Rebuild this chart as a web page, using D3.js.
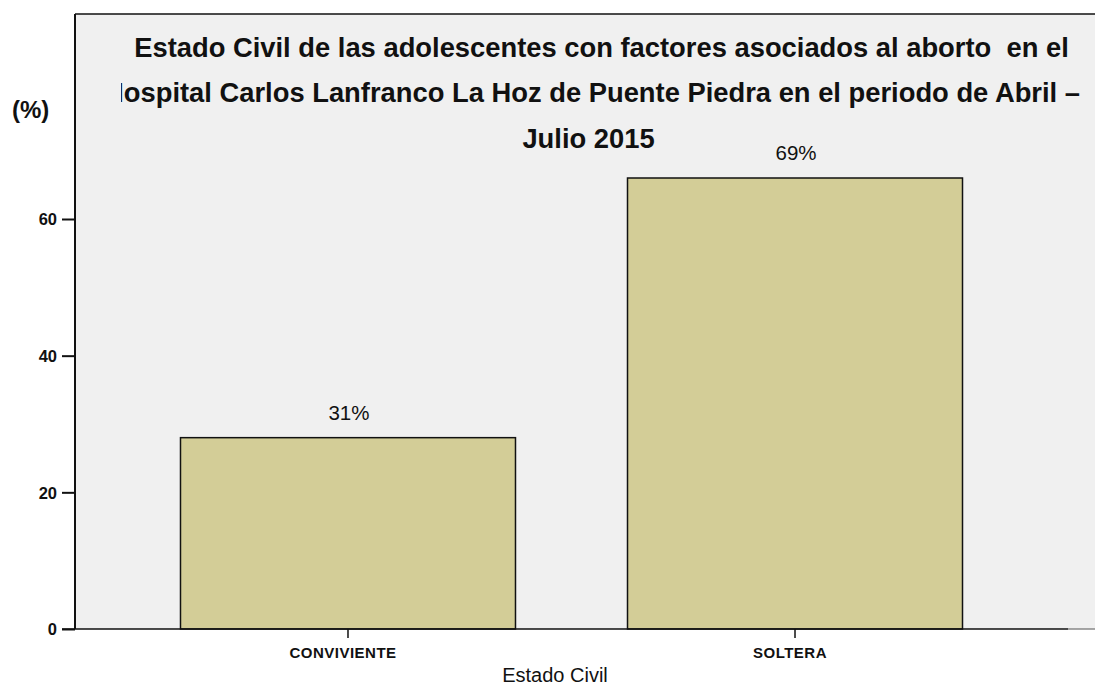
<!DOCTYPE html>
<html>
<head>
<meta charset="utf-8">
<script src="https://cdn.jsdelivr.net/npm/d3@7"></script>
<style>
  html, body { margin: 0; padding: 0; background: #fff; }
  svg { display: block; font-family: Arial, "Liberation Sans", sans-serif; }
  text { white-space: pre; }
</style>
</head>
<body>
<svg id="chart" width="1095" height="685"></svg>
<script>
const categories = ["CONVIVIENTE", "SOLTERA"];
const values = [28, 66];
const valueLabels = ["31%", "69%"];
const yTicks = [0, 20, 40, 60];
const titleLines = [
  "Estado Civil de las adolescentes con factores asociados al aborto  en el",
  "Hospital Carlos Lanfranco La Hoz de Puente Piedra en el periodo de Abril \u2013",
  "Julio 2015"
];
const yAxisTitle = "(%)";
const xAxisTitle = "Estado Civil";

(function () {
const W = 1095, H = 685;
const pL = 75, pR = 1068, pT = 14, pB = 629;

const svg = d3.select("#chart");

const x = d3.scaleBand().domain(categories).range([pL, pR])
  .paddingInner(0.2506).paddingOuter(0.236);
const y = d3.scaleLinear().domain([0, 90]).range([pB, pT]);

// plot background
svg.append("rect").attr("x", pL).attr("y", pT)
  .attr("width", W - pL).attr("height", pB - pT)
  .attr("fill", "#f0f0f0");

// top border
svg.append("line").attr("x1", pL).attr("x2", W).attr("y1", pT).attr("y2", pT)
  .attr("stroke", "#111").attr("stroke-width", 1.5);

// bottom baseline extension (lighter)
svg.append("line").attr("x1", pR).attr("x2", W).attr("y1", pB).attr("y2", pB)
  .attr("stroke", "#888").attr("stroke-width", 1.5);

// clip for title
const defs = svg.append("defs");
defs.append("clipPath").attr("id", "titleClip")
  .append("rect").attr("x", 121).attr("y", pT).attr("width", W - 121).attr("height", 200);

// bars
svg.selectAll("rect.bar").data(values).join("rect")
  .attr("class", "bar")
  .attr("x", (d, i) => x(categories[i]))
  .attr("width", x.bandwidth())
  .attr("y", d => y(d))
  .attr("height", d => y(0) - y(d))
  .attr("fill", "#d3cd97")
  .attr("stroke", "#111")
  .attr("stroke-width", 1.5);

// value labels
svg.selectAll("text.vlabel").data(values).join("text")
  .attr("class", "vlabel")
  .attr("x", (d, i) => x(categories[i]) + x.bandwidth() / 2 + 1)
  .attr("y", d => y(d) - 18)
  .attr("text-anchor", "middle")
  .attr("font-size", 20.5)
  .attr("fill", "#111")
  .text((d, i) => valueLabels[i]);

// y axis
const yAxis = d3.axisLeft(y).tickValues(yTicks).tickSize(13).tickPadding(5);
const gy = svg.append("g").attr("transform", `translate(${pL},0)`).call(yAxis);
gy.select(".domain").attr("stroke", "#111").attr("stroke-width", 2)
  .attr("d", `M0,${pT}V${pB}`);
gy.selectAll(".tick line").attr("stroke", "#111").attr("stroke-width", 2);
gy.selectAll(".tick text").attr("font-size", 16.5).attr("font-weight", "bold")
  .attr("font-family", "Arial, 'Liberation Sans', sans-serif").attr("fill", "#111")
  .attr("dy", "0.36em");

// x axis
const xAxis = d3.axisBottom(x).tickSize(9).tickPadding(6);
const gx = svg.append("g").attr("transform", `translate(0,${pB})`).call(xAxis);
gx.select(".domain").attr("stroke", "#111").attr("stroke-width", 1.5)
  .attr("d", `M${pL - 13},0H${pR}`);
gx.selectAll(".tick line").attr("stroke", "#111").attr("stroke-width", 1.5);
gx.selectAll(".tick text").attr("font-size", 15).attr("font-weight", "bold")
  .attr("font-family", "Arial, 'Liberation Sans', sans-serif").attr("fill", "#111")
  .attr("letter-spacing", "0.5px").attr("dx", -5).attr("dy", "0.9em");

// axis titles
svg.append("text").attr("x", 12).attr("y", 118)
  .attr("font-size", 24).attr("font-weight", "bold").attr("fill", "#111")
  .text(yAxisTitle);
svg.append("text").attr("x", 555).attr("y", 682)
  .attr("text-anchor", "middle").attr("font-size", 20).attr("fill", "#111")
  .text(xAxisTitle);

// title
const tg = svg.append("g").attr("clip-path", "url(#titleClip)");
const t1 = tg.append("text").attr("font-weight", "bold").attr("font-size", 23)
  .attr("fill", "#111").text(titleLines[0]);
const w1 = t1.node().getComputedTextLength();
const fs = 23 * 935 / w1;
t1.attr("font-size", fs).attr("x", 601.5).attr("y", 57).attr("text-anchor", "middle");
tg.append("text").attr("font-weight", "bold").attr("font-size", fs).attr("fill", "#111")
  .attr("x", 1080).attr("y", 102).attr("text-anchor", "end").text(titleLines[1]);
tg.append("text").attr("font-weight", "bold").attr("font-size", fs).attr("fill", "#111")
  .attr("x", 588.5).attr("y", 148).attr("text-anchor", "middle").text(titleLines[2]);
})();
</script>
</body>
</html>
